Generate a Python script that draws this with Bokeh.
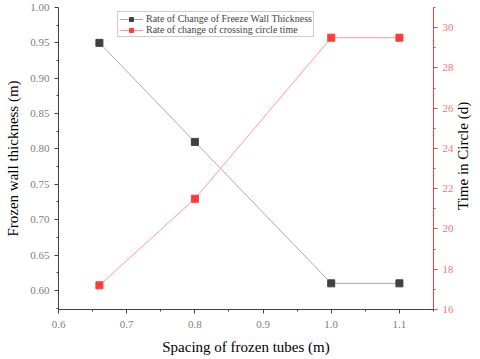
from bokeh.plotting import figure
from bokeh.models import Range1d, LinearAxis, FixedTicker, Legend, LegendItem, Div
from bokeh.layouts import row
from bokeh.embed import file_html
from bokeh.resources import INLINE

spacing = [0.66, 0.8, 1.0, 1.1]
thickness = [0.95, 0.81, 0.61, 0.61]
circle_time = [17.2, 21.5, 29.5, 29.5]
x_ticks = [0.6, 0.7, 0.8, 0.9, 1.0, 1.1]
x_tick_labels = ["0.6", "0.7", "0.8", "0.9", "1.0", "1.1"]
y_ticks = [0.60, 0.65, 0.70, 0.75, 0.80, 0.85, 0.90, 0.95, 1.00]
y_tick_labels = ["0.60", "0.65", "0.70", "0.75", "0.80", "0.85", "0.90", "0.95", "1.00"]
t_ticks = [16, 18, 20, 22, 24, 26, 28, 30]
right_label = "Time in Circle (d)"

SERIF = "'Liberation Serif', serif"
RED = "#ff3b3b"

p = figure(width=456, height=359, x_range=Range1d(0.6, 1.15), y_range=Range1d(0.573, 1.0),
           output_backend="svg", toolbar_location=None,
           min_border_left=58, min_border_right=22, min_border_top=7, min_border_bottom=50)
p.outline_line_color = None
p.xgrid.visible = False
p.ygrid.visible = False
p.extra_y_ranges = {"t": Range1d(16, 31)}


def style_axis(ax, color, label_color):
    ax.major_label_text_font = SERIF
    ax.major_label_text_font_size = "11px"
    ax.major_label_text_color = label_color
    ax.axis_line_color = color
    ax.major_tick_line_color = color
    ax.minor_tick_line_color = color
    ax.major_tick_out = 4
    ax.major_tick_in = 0
    ax.minor_tick_out = 2
    ax.minor_tick_in = 0
    ax.major_label_standoff = 5
    ax.axis_label_text_font = SERIF
    ax.axis_label_text_font_style = "normal"
    ax.axis_label_text_font_size = "15px"
    ax.axis_label_text_color = "black"


# left axis
ya = p.yaxis[0]
style_axis(ya, "#404040", "#808080")
ya.ticker = FixedTicker(ticks=y_ticks, minor_ticks=[0.575 + 0.05 * i for i in range(9)])
ya.major_label_overrides = {t: l for t, l in zip(y_ticks, y_tick_labels)}
ya.axis_label = "Frozen wall thickness (m)"
ya.axis_label_standoff = 6

# bottom axis
xa = p.xaxis[0]
style_axis(xa, "#404040", "#808080")
xa.ticker = FixedTicker(ticks=x_ticks, minor_ticks=[0.65, 0.75, 0.85, 0.95, 1.05, 1.15])
xa.major_label_overrides = {t: l for t, l in zip(x_ticks, x_tick_labels)}
xa.axis_label = "Spacing of frozen tubes (m)"
xa.major_label_standoff = 7
xa.axis_label_standoff = 8

# right axis
ra = LinearAxis(y_range_name="t")
style_axis(ra, RED, "#ff7070")
ra.ticker = FixedTicker(ticks=t_ticks, minor_ticks=[17, 19, 21, 23, 25, 27, 29, 31])
p.add_layout(ra, "right")

# series
l1 = p.line(spacing, thickness, line_color="#aaaaaa", line_width=1)
s1 = p.scatter(spacing, thickness, marker="square", size=7, fill_color="#404040", line_color="#404040")
l2 = p.line(spacing, circle_time, y_range_name="t", line_color="#ff9a9a", line_width=1)
s2 = p.scatter(spacing, circle_time, y_range_name="t", marker="square", size=7, fill_color=RED, line_color=RED)

legend = Legend(items=[
    LegendItem(label="Rate of Change of Freeze Wall Thickness", renderers=[l1, s1]),
    LegendItem(label="Rate of change of crossing circle time", renderers=[l2, s2]),
], location=(59, 272))
legend.label_text_font = SERIF
legend.label_text_font_size = "10px"
legend.label_height = 10
legend.glyph_height = 10
legend.glyph_width = 24
legend.spacing = 0
legend.padding = 1
legend.margin = 0
legend.label_standoff = 3
legend.border_line_color = "#999999"
legend.background_fill_alpha = 1
p.add_layout(legend, "center")

side = Div(
    text=('<div style="writing-mode: vertical-rl; transform: rotate(180deg); '
          'font-family: \'Liberation Serif\', serif; font-size: 15px; color: black; '
          'height: 300px; text-align: center; line-height: 17px; margin-left: -1px;">'
          + right_label + '</div>'),
    width=24, height=306, margin=(6, 0, 0, 0))

layout = row(p, side, spacing=0)
open("out.html", "w").write(file_html(layout, INLINE))
